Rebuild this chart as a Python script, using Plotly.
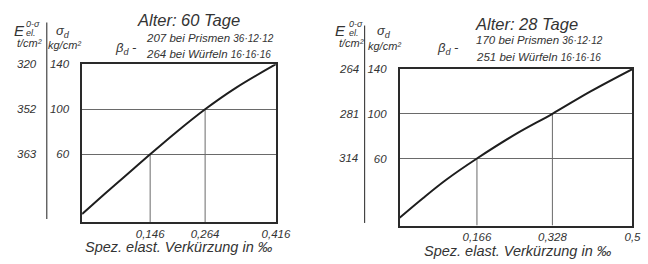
import plotly.graph_objects as go

W, H = 648, 264
WX = 632   # effective horizontal pixel width observed in the rendered page
DY = 3     # small vertical correction observed in the rendered page

# ---- data: Alter 60 Tage ----
strain_60 = [0.0, 0.05, 0.1, 0.146, 0.2, 0.264, 0.33, 0.416]
sigma_60 = [7, 25.5, 43.5, 60, 79, 100, 119, 140]
xticks_60 = [0.146, 0.264, 0.416]
xticktext_60 = ["0,146", "0,264", "0,416"]
sig_ticks = [60, 100, 140]
E_60 = ["363", "352", "320"]
beta_60 = ["207", "264"]

# ---- data: Alter 28 Tage ----
strain_28 = [0.0, 0.05, 0.1, 0.166, 0.25, 0.328, 0.41, 0.5]
sigma_28 = [7, 24.5, 41, 60, 82, 100, 120, 140]
xticks_28 = [0.166, 0.328, 0.5]
xticktext_28 = ["0,166", "0,328", "0,5"]
E_28 = ["314", "281", "264"]
beta_28 = ["170", "251"]

FONT = "Liberation Sans"
INK = "#1e1e1e"
GRID = "#6a6a6a"
TXT = "#333"


def px(x):
    return min(x / WX, 1.0)


def pxa(x):
    return x / WX


def py(y):
    return 1 - (y - DY) / H


fig = go.Figure()

panels = [
    dict(xa="x", ya="y", strain=strain_60, sigma=sigma_60, xt=xticks_60, xtt=xticktext_60,
         E=E_60, beta=beta_60, title="Alter: 60 Tage",
         dom_x=[px(82), px(275.5)], dom_y=[py(224), py(62.5)], xmax=0.416,
         e_x=27, sep_x=46.7, sep_y=(20, 221), title_x=188, title_y=17.5,
         beta_x=126, beta_y=46, l1=(145, 36), l2=(145, 52), xt_title=(179, 250),
         head=dict(E=(19, 28), sup=(25, 21), sub=(25, 31), t=(29, 41), s=(63, 29), kg=(64, 43))),
    dict(xa="x2", ya="y2", strain=strain_28, sigma=sigma_28, xt=xticks_28, xtt=xticktext_28,
         E=E_28, beta=beta_28, title="Alter: 28 Tage",
         dom_x=[px(399), px(631.5)], dom_y=[py(227.7), py(67.5)], xmax=0.5,
         e_x=348, sep_x=364, sep_y=(23, 225), title_x=526, title_y=21.5,
         beta_x=447, beta_y=46, l1=(474, 38), l2=(474, 55), xt_title=(517, 254),
         head=dict(E=(340, 28), sup=(347, 21), sub=(347, 31), t=(351, 41), s=(383, 29), kg=(384, 44))),
]

annotations = []
shapes = []

for i, p in enumerate(panels):
    xa, ya = p["xa"], p["ya"]
    # partial vertical grid lines from the x-axis up to the curve points
    for xv, yv in zip(p["xt"][:-1], sig_ticks[:-1]):
        fig.add_trace(go.Scatter(x=[xv, xv], y=[0, yv], mode="lines",
                                 line=dict(color=GRID, width=1), xaxis=xa, yaxis=ya,
                                 showlegend=False, hoverinfo="skip"))
    # main curve
    fig.add_trace(go.Scatter(x=p["strain"], y=p["sigma"], mode="lines",
                             line=dict(color=INK, width=2, shape="spline", smoothing=1.0),
                             xaxis=xa, yaxis=ya, showlegend=False, cliponaxis=False))

    sfx = "" if i == 0 else "2"
    tf = dict(size=11.5, color=TXT, family=FONT, style="italic")
    fig.update_layout(**{
        "xaxis" + sfx: dict(domain=p["dom_x"], range=[0, p["xmax"]], anchor=ya,
                            showgrid=False, zeroline=False, showline=True, mirror=True,
                            linecolor="#2a2a2a", linewidth=1.5, tickvals=p["xt"],
                            ticktext=p["xtt"], ticks="", fixedrange=True, tickfont=tf),
        "yaxis" + sfx: dict(domain=p["dom_y"], range=[0, 140], anchor=xa,
                            showgrid=True, gridcolor=GRID, gridwidth=1, zeroline=False,
                            showline=True, mirror=True, linecolor="#2a2a2a", linewidth=1.5,
                            tickvals=sig_ticks, ticktext=[str(v) for v in sig_ticks],
                            ticks="", ticklabelstandoff=9, fixedrange=True, tickfont=tf),
    })

    # E column values aligned to sigma ticks
    for yv, lab in zip(sig_ticks, p["E"]):
        annotations.append(dict(x=pxa(p["e_x"]), xref="paper", y=yv, yref=ya, text=lab,
                                showarrow=False, xanchor="center", yanchor="middle",
                                font=tf))
    # separator line
    shapes.append(dict(type="line", xref="paper", yref="paper",
                       x0=pxa(p["sep_x"]), x1=pxa(p["sep_x"]),
                       y0=py(p["sep_y"][0]), y1=py(p["sep_y"][1]),
                       line=dict(color="#444", width=1.2)))

    hd = p["head"]

    def ann(pos, text, size, anchor="center"):
        annotations.append(dict(x=pxa(pos[0]), y=py(pos[1]), xref="paper", yref="paper",
                                text=text, showarrow=False, xanchor=anchor, yanchor="middle",
                                borderpad=0,
                                font=dict(size=size, color=TXT, family=FONT, style="italic")))

    ann(hd["E"], "E", 15)
    ann(hd["sup"], "0-σ", 9, "left")
    ann(hd["sub"], "el.", 9, "left")
    ann(hd["t"], "t/cm²", 11)
    ann(hd["s"], "σ<sub>d</sub>", 13)
    ann(hd["kg"], "kg/cm²", 11)

    ann((p["title_x"], p["title_y"]), p["title"], 16.5)
    ann((p["beta_x"], p["beta_y"]), "β<sub>d</sub> -", 13)
    dims = ["36·12·12", "16·16·16"]
    names = ["bei Prismen", "bei Würfeln"]
    for pos, b, n, d in zip([p["l1"], p["l2"]], p["beta"], names, dims):
        ann(pos, f"{b} {n} <span style='font-size:10px'>{d}</span>", 11.5, "left")
    ann(p["xt_title"], "Spez. elast. Verkürzung in ‰", 14.5)

fig.update_layout(width=W, height=H, autosize=False, margin=dict(l=0, r=0, t=0, b=0),
                  paper_bgcolor="white", plot_bgcolor="white",
                  annotations=annotations, shapes=shapes, showlegend=False,
                  font=dict(family=FONT, color=TXT))

post = (
    "document.documentElement.style.overflow='hidden';"
    "document.body.style.margin='0';document.body.style.padding='0';"
    "document.body.style.overflow='hidden';"
    "var gd=document.getElementById('{plot_id}');"
    "Plotly.relayout(gd,{width:%d,height:%d});" % (W, H)
)

fig.write_html("out.html", config={"displayModeBar": False, "responsive": False},
               post_script=post)
